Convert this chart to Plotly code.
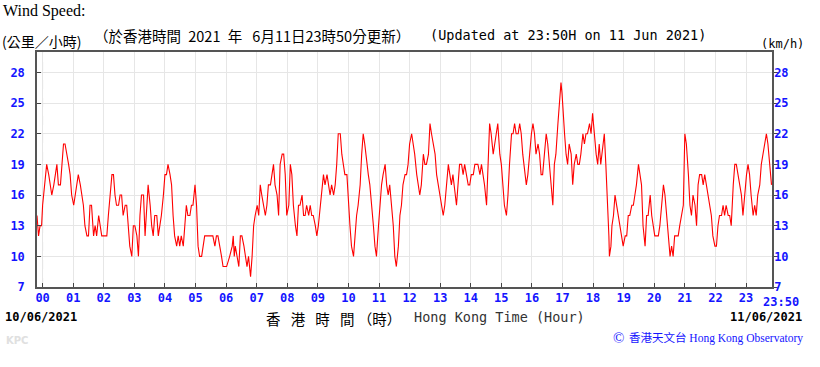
import plotly.graph_objects as go

# ---------------- data (minutes after 00:00 on 10/06/2021, km/h) ----------------
minutes = [
    -11, -8, -5, -2, 0, 2, 5, 8, 12, 15, 18, 22, 25, 28, 31, 35, 38, 41, 44, 48, 51, 54, 57,
    61, 64, 67, 70, 74, 77, 80, 83, 87, 90, 93, 96, 100, 103, 106, 110, 113, 116, 120, 123, 126,
    129, 132, 136, 139, 142, 145, 149, 152, 155, 158, 162, 165, 168, 171, 175, 178, 181, 185, 188,
    191, 194, 198, 201, 204, 207, 211, 214, 217, 220, 224, 227, 230, 233, 237, 240, 243, 246, 250,
    253, 256, 259, 263, 266, 269, 272, 276, 279, 282, 285, 289, 292, 295, 299, 302, 305, 308, 312,
    315, 318, 321, 328, 334, 338, 341, 344, 348, 351, 354, 361, 367,
    372, 374, 376, 378, 382, 385, 388, 391, 395, 398, 401, 404, 408, 411, 414, 417, 421, 424, 427,
    430, 434, 437, 440, 443, 447, 450, 453, 456, 460, 463, 466, 470, 473, 476, 479, 483, 486, 489,
    492, 496, 499, 502, 505, 509, 512, 515, 518, 522, 525, 528, 531, 535, 538, 541, 545, 548, 551,
    554, 558, 561, 564, 567, 571, 574, 577, 580, 584, 587, 590, 593, 597, 600, 603, 606, 610, 613,
    616, 619, 623, 626, 629, 632, 636, 639, 642, 646, 649, 652, 655, 659, 662, 665, 668, 672, 675,
    678, 681, 685, 688, 691, 694, 698, 701, 704, 707, 711, 714, 717, 720, 724, 727, 730, 734, 737,
    740,
    743, 747, 750, 753, 757, 760, 763, 766, 770, 773, 776, 779, 783, 786, 789, 792, 796, 799, 802,
    805, 809, 812, 815, 818, 822, 825, 828, 831, 835, 838, 841, 845, 848, 851, 854, 858, 861, 864,
    867, 871, 874, 877, 880, 884, 887, 890, 893, 897, 900, 903, 906, 910, 913, 916, 920, 923, 926,
    929, 933, 936, 939, 942, 946, 949, 952, 955, 959, 962, 965, 968, 972, 975, 978, 981, 985, 988,
    991, 994, 998, 1001, 1004, 1007, 1011, 1014, 1017, 1019, 1020, 1024, 1027, 1030, 1033, 1037,
    1040, 1043, 1047, 1050, 1053, 1056, 1060, 1063, 1066, 1069, 1073, 1076, 1079, 1082, 1086, 1089,
    1092, 1095, 1099, 1102, 1105, 1109, 1111, 1112,
    1115, 1117, 1120, 1123, 1126, 1130, 1133, 1136, 1139, 1143, 1146, 1149, 1152, 1156, 1159, 1162,
    1165, 1169, 1172, 1175, 1178, 1182, 1185, 1188, 1192, 1195, 1198, 1201, 1205, 1208, 1211, 1214,
    1218, 1221, 1224, 1227, 1231, 1234, 1237, 1240, 1244, 1247, 1250, 1253, 1257, 1260, 1263, 1267,
    1270, 1273, 1276, 1280, 1283, 1286, 1289, 1293, 1296, 1299, 1302, 1306, 1309, 1312, 1315, 1319,
    1322, 1325, 1328, 1332, 1335, 1338, 1341, 1345, 1348, 1351, 1355, 1358, 1361, 1364, 1368, 1371,
    1374, 1377, 1381, 1384, 1387, 1390, 1394, 1397, 1400, 1403, 1407, 1410, 1413, 1416, 1420, 1423,
    1426, 1430,
]

speed = [
    14, 12, 13, 13, 15, 16, 18, 19, 18, 17, 16, 17, 18, 19, 17, 17, 19, 21, 21, 20, 19, 18, 16,
    15, 16, 17, 18, 17, 16, 15, 13, 12, 12, 15, 15, 12, 13, 12, 14, 13, 12, 12, 12, 12,
    14, 16, 18, 18, 16, 15, 15, 16, 16, 14, 15, 15, 13, 11, 10, 13, 13, 12, 10,
    14, 16, 16, 12, 15, 17, 15, 13, 12, 14, 14, 12, 13, 14, 16, 18, 18, 19, 18,
    17, 14, 12, 11, 12, 11, 12, 11, 13, 15, 14, 14, 15, 15, 17, 15, 11, 10, 10,
    11, 12, 12, 12, 12, 11, 12, 12, 11, 10, 9, 9, 10,
    11, 12, 10, 11, 10, 9, 12, 12, 11, 10, 9, 10, 8, 10, 13, 14, 15, 14, 17,
    16, 15, 14, 15, 17, 17, 18, 19, 17, 16, 14, 19, 20, 20, 18, 14, 15, 19, 18,
    15, 13, 12, 15, 15, 16, 14, 14, 15, 14, 15, 14, 14, 13, 12, 13, 15, 17, 18,
    17, 18, 17, 16, 17, 16, 17, 19, 22, 22, 20, 19, 18, 18, 15, 13, 11, 10, 12,
    14, 15, 17, 20, 22, 21, 19, 18, 17, 15, 13, 11, 10, 13, 15, 17, 18, 19, 17,
    16, 17, 15, 13, 10, 9, 11, 14, 15, 17, 18, 18, 19, 21, 22, 21, 20, 18, 17,
    16,
    17, 20, 19, 19, 20, 23, 22, 21, 20, 18, 17, 16, 15, 14, 15, 17, 19, 18, 17,
    18, 16, 15, 17, 19, 19, 18, 19, 18, 17, 17, 18, 18, 19, 19, 19, 18, 19, 18,
    17, 15, 19, 23, 22, 20, 21, 22, 23, 20, 19, 17, 15, 14, 16, 19, 22, 22, 23,
    22, 22, 23, 22, 20, 18, 17, 18, 20, 22, 23, 22, 20, 21, 20, 18, 18, 20, 22,
    21, 19, 17, 15, 19, 20, 23, 25, 27, 26, 25, 22, 20, 19, 21, 20,
    17, 19, 20, 19, 19, 20, 22, 21, 22, 22, 23, 22, 24, 22, 20, 19,
    21, 19, 21, 22, 19, 15, 12, 10,
    11, 13, 14, 16, 15, 14, 13, 12, 11, 12, 12, 14, 14, 15, 15, 16,
    17, 19, 18, 17, 13, 11, 14, 14, 16, 14, 13, 12, 12, 12, 13, 15,
    17, 16, 14, 12, 10, 11, 10, 12, 12, 12, 13, 14, 15, 22, 21, 18,
    15, 14, 16, 15, 13, 17, 18, 18, 17, 18, 17, 16, 15, 14, 12, 11,
    11, 13, 14, 14, 15, 14, 15, 14, 14, 13, 17, 19, 19, 18, 17, 16,
    14, 16, 18, 19, 18, 16, 14, 15, 14, 16, 17, 19, 20, 21, 22, 21,
    19, 17,
]

hour_tick_minutes = [h * 60 for h in range(24)] + [1430]
hour_tick_labels = [f"{h:02d}" for h in range(24)] + [""]
end_label = "23:50"
speed_ticks = [7, 10, 13, 16, 19, 22, 25, 28]

# ---------------- styling ----------------
W, H = 820, 367
L, R, T, B = 37, 772, 52, 287          # plot-area edges in pixels
MONO = "DejaVu Sans Mono"
SERIF = "Liberation Serif"
CJK = "Noto Sans CJK TC"
BLUE = "#1414ff"
GRID = "#e6e6e6"
FRAME = "#555555"


def px(x):
    return (x - L) / (R - L)


def py(y):
    return (B - y) / (B - T)


tick_font = dict(family=MONO, size=12, color=BLUE, weight="bold")

fig = go.Figure()
fig.add_trace(go.Scatter(
    x=minutes, y=speed, mode="lines",
    line=dict(color="#ff0000", width=1.1),
    showlegend=False, hoverinfo="x+y",
))
fig.add_trace(go.Scatter(
    x=minutes, y=speed, mode="lines", yaxis="y2",
    line=dict(color="rgba(0,0,0,0)", width=0),
    showlegend=False, hoverinfo="skip",
))

fig.update_layout(
    width=W, height=H,
    margin=dict(l=L, r=W - R, t=T, b=H - B, pad=0, autoexpand=False),
    paper_bgcolor="white", plot_bgcolor="white",
    xaxis=dict(
        range=[-11, 1431], tickmode="array",
        tickvals=hour_tick_minutes, ticktext=hour_tick_labels, tickangle=0,
        ticks="inside", ticklen=4, tickwidth=1, tickcolor="#444",
        showgrid=True, gridcolor=GRID, gridwidth=1,
        showline=True, linecolor=FRAME, linewidth=1.5, mirror=True,
        zeroline=False, tickfont=tick_font, ticklabelstandoff=-1, automargin=False,
    ),
    yaxis=dict(
        range=[7, 30], tickmode="array", tickvals=speed_ticks,
        ticks="inside", ticklen=4, tickwidth=1, tickcolor="#444",
        showgrid=True, gridcolor=GRID, gridwidth=1,
        showline=True, linecolor=FRAME, linewidth=1.5, mirror=True,
        zeroline=False, tickfont=tick_font, ticklabelstandoff=8, automargin=False,
    ),
    yaxis2=dict(
        range=[7, 30], tickmode="array", tickvals=speed_ticks,
        overlaying="y", side="right", anchor="x",
        ticks="outside", ticklen=4, tickwidth=1, tickcolor="#444",
        showgrid=False, showline=True, linecolor=FRAME, linewidth=1.5,
        zeroline=False, tickfont=tick_font, ticklabelstandoff=-6, automargin=False,
    ),
)

# dashed day-boundary line at 00
fig.add_shape(type="line", xref="x", yref="paper", x0=0, x1=0, y0=0, y1=1,
              line=dict(color="white", width=2), layer="between")
fig.add_shape(type="line", xref="x", yref="paper", x0=0, x1=0, y0=0, y1=1,
              line=dict(color="#d4d4d4", width=1, dash="dash"), layer="between")

ann = []


def text(s, x, y, xa="left", font=None):
    ann.append(dict(text=s, x=px(x), y=py(y), xref="paper", yref="paper",
                    xanchor=xa, yanchor="middle", showarrow=False, font=font))


EN = "\u2002"
TH = "\u2009"
text(end_label, 761, 301.5, font=tick_font)
text("Wind Speed:", 1, 11, font=dict(family=SERIF, size=16, color="black"))
text("(公里／小時)", 0, 41, font=dict(family=CJK, size=14, color="black"))
text(f"（於香港時間{EN}2021{EN}年{EN}{TH}6月11日23時50分更新）", 92, 35,
     font=dict(family=CJK, size=14.5, color="black"))
text("(Updated at 23:50H on 11 Jun 2021)", 428, 35, font=dict(family=MONO, size=13.5, color="black"))
text("(km/h)", 806, 44, xa="right", font=dict(family=MONO, size=12, color="black"))

text("10/06/2021", 3, 317, font=dict(family=MONO, size=12, color="black", weight="bold"))
text("11/06/2021", 804, 317, xa="right", font=dict(family=MONO, size=12, color="black", weight="bold"))
gap = EN + TH
text(f"香{gap}港{gap}時{gap}間 （時）", 264, 318, font=dict(family=CJK, size=14.5, color="black"))
text("Hong Kong Time (Hour)", 412, 317, font=dict(family=MONO, size=13.5, color="#333333"))
text("KPC", 4, 340, font=dict(family="DejaVu Sans", size=10, color="#e0e0e0", weight="bold"))
text("©", 611, 338, font=dict(family=SERIF, size=15, color=BLUE))
text("香港天文台 Hong Kong Observatory", 627, 338,
     font=dict(family=f"{SERIF}, {CJK}", size=11.5, color=BLUE))

fig.update_layout(annotations=ann)

fig.write_html("out.html", config={"displayModeBar": False},
               post_script="document.body.style.margin='0';")
